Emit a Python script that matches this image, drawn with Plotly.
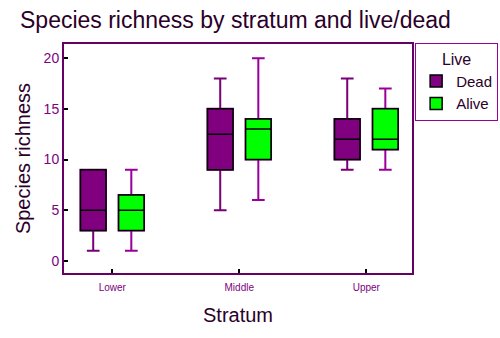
import plotly.graph_objects as go

strata = ["Lower", "Middle", "Upper"]

dead_low = [1, 5, 9]
dead_q1 = [3, 9, 10]
dead_med = [5, 12.5, 12]
dead_q3 = [9, 15, 14]
dead_high = [9, 18, 18]

alive_low = [1, 6, 9]
alive_q1 = [3, 10, 11]
alive_med = [5, 13, 12]
alive_q3 = [6.5, 14, 15]
alive_high = [9, 20, 17]

FONT = "Liberation Sans, Arial, sans-serif"
TXT = "#2a002a"
PUR = "#990099"

fig = go.Figure()

def add_group(name, group, fill, wcolor, low, q1, med, q3, high):
    # whiskers in purple
    fig.add_trace(go.Box(
        x=strata, q1=q1, median=med, q3=q3, lowerfence=low, upperfence=high,
        name=name, offsetgroup=group, fillcolor=fill,
        line=dict(color=wcolor, width=2), whiskerwidth=0.5,
        showlegend=False, hoverinfo="skip"))
    # box outline and median in black
    fig.add_trace(go.Box(
        x=strata, q1=q1, median=med, q3=q3, lowerfence=q1, upperfence=q3,
        name=name, offsetgroup=group, fillcolor=fill,
        line=dict(color="black", width=1.5), whiskerwidth=0.5,
        showlegend=True))

add_group("Dead", "dead", "#800080", "#770077", dead_low, dead_q1, dead_med, dead_q3, dead_high)
add_group("Alive", "alive", "#00ff00", PUR, alive_low, alive_q1, alive_med, alive_q3, alive_high)

fig.update_layout(
    width=500, height=338,
    margin=dict(l=64, r=88, t=44, b=65, autoexpand=False),
    paper_bgcolor="white", plot_bgcolor="white",
    boxmode="group", boxgap=0.4, boxgroupgap=0.333,
    font=dict(family=FONT, color=TXT),
    title=dict(text="Species richness by stratum and live/dead",
               x=0.04, xanchor="left", y=0.94, yanchor="middle",
               font=dict(size=23, color=TXT)),
    legend=dict(x=1.009, xanchor="left", y=1.005, yanchor="top",
                bordercolor=PUR, borderwidth=1, bgcolor="white",
                font=dict(size=15, color=TXT),
                title=dict(text="Live", side="top center", font=dict(size=16, color=TXT)),
                tracegroupgap=0, itemwidth=30),
    showlegend=True,
)

fig.update_xaxes(
    range=[-0.38, 2.36], showgrid=False, zeroline=False,
    showline=True, linecolor="#660066", linewidth=2, mirror=True,
    ticks="inside", ticklen=4, tickcolor="black", tickwidth=2,
    tickfont=dict(size=10, color="#800080"), ticklabelstandoff=4,
    title=dict(text="Stratum", font=dict(size=20, color=TXT), standoff=16),
)
fig.update_yaxes(
    range=[-1.2, 21.4], showgrid=False, zeroline=False,
    showline=True, linecolor="#660066", linewidth=2, mirror=True,
    ticks="inside", ticklen=4, tickcolor="black", tickwidth=2,
    tickvals=[0, 5, 10, 15, 20],
    tickfont=dict(size=14, color="#800080"),
    title=dict(text="Species richness", font=dict(size=20, color=TXT), standoff=8),
)

fig.write_html("out.html")
